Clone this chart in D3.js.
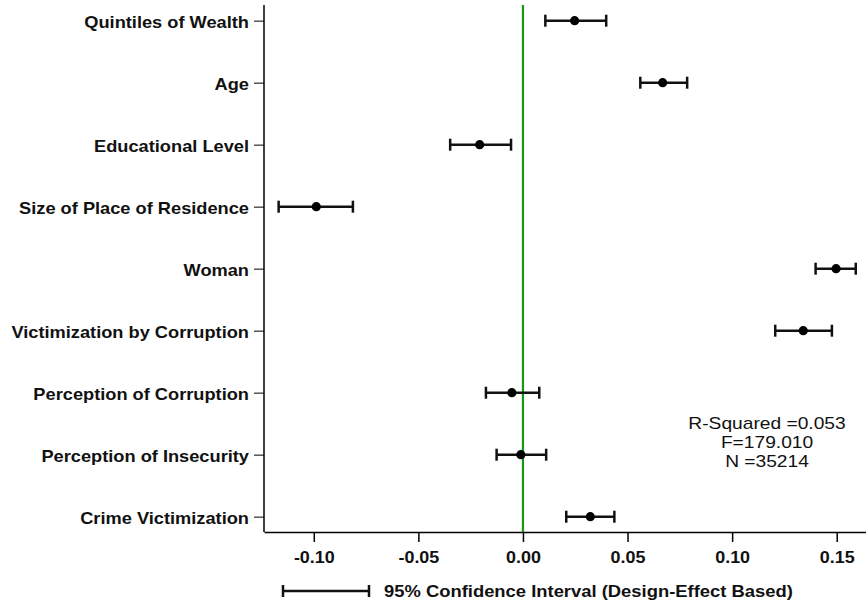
<!DOCTYPE html>
<html><head><meta charset="utf-8">
<script src="https://cdn.jsdelivr.net/npm/d3@7"></script>
<style>
html,body{margin:0;padding:0;background:#fff;}
text{font-family:"Liberation Sans",Arial,sans-serif;}
</style>
</head><body>
<svg id="chart" width="866" height="608"></svg>
<script>
const categories = ["Quintiles of Wealth","Age","Educational Level","Size of Place of Residence","Woman","Victimization by Corruption","Perception of Corruption","Perception of Insecurity","Crime Victimization"];
const estimates = [0.0247, 0.0668, -0.0207, -0.0988, 0.1497, 0.1340, -0.0053, -0.0010, 0.0322];
const lowerCI   = [0.0107, 0.0561, -0.0348, -0.1168, 0.1399, 0.1206, -0.0177, -0.0126, 0.0207];
const upperCI   = [0.0398, 0.0785, -0.0057, -0.0813, 0.1591, 0.1477, 0.0078, 0.0111, 0.0437];
const xTicks = [-0.10, -0.05, 0.00, 0.05, 0.10, 0.15];
const statsLines = ["R-Squared =0.053", "F=179.010", "N =35214"];
const legendLabel = "95% Confidence Interval (Design-Effect Based)";

(function(){
const svg = d3.select("#chart");
const pLeft = 264, pRight = 866, pTop = 5, axisY = 532;
const x = d3.scaleLinear().domain([-0.1238, 0.164]).range([pLeft, pRight]);
const y = d3.scalePoint().domain(categories).range([20.7, 516.7]);
const fmt = v => d3.format(".2f")(v).replace("\u2212","-");

// y axis
const yAxis = svg.append("g").attr("transform", `translate(${pLeft},0)`)
  .call(d3.axisLeft(y).tickSize(10).tickPadding(5).tickSizeOuter(0));
yAxis.select(".domain").remove();
yAxis.append("line").attr("x1",0).attr("x2",0).attr("y1",pTop).attr("y2",axisY).attr("stroke","#000").attr("stroke-width",1.5);
yAxis.selectAll(".tick line").attr("stroke","#555").attr("stroke-width",1.5);
yAxis.selectAll(".tick text").attr("font-size",16).attr("font-weight","bold").attr("fill","#111")
  .attr("x",0).attr("dy","0.4em").attr("transform","translate(-15,0) scale(1.14,1)");

// x axis
const xAxis = svg.append("g").attr("transform", `translate(0,${axisY})`)
  .call(d3.axisBottom(x).tickValues(xTicks).tickFormat(fmt).tickSize(10).tickPadding(10).tickSizeOuter(0));
xAxis.select(".domain").attr("stroke","#000").attr("stroke-width",1.5);
xAxis.selectAll(".tick line").attr("stroke","#000").attr("stroke-width",1.5);
xAxis.selectAll(".tick text").attr("font-size",16).attr("font-weight","bold").attr("fill","#111")
  .attr("transform","scale(1.12,1)");

// zero line
svg.append("line").attr("x1",x(0)).attr("x2",x(0)).attr("y1",pTop).attr("y2",axisY)
  .attr("stroke","#17961a").attr("stroke-width",2.2);

// error bars
const rows = categories.map((c,i)=>({c, e:estimates[i], lo:lowerCI[i], hi:upperCI[i]}));
const g = svg.append("g");
const capH = 6;
rows.forEach(r=>{
  const yy = y(r.c);
  g.append("line").attr("x1",x(r.lo)).attr("x2",x(r.hi)).attr("y1",yy).attr("y2",yy).attr("stroke","#111").attr("stroke-width",2.5);
  [r.lo, r.hi].forEach(v=>{
    g.append("line").attr("x1",x(v)).attr("x2",x(v)).attr("y1",yy-capH).attr("y2",yy+capH).attr("stroke","#111").attr("stroke-width",2.5);
  });
  g.append("circle").attr("cx",x(r.e)).attr("cy",yy).attr("r",4.6).attr("fill","#000");
});

// stats text
const st = svg.append("text").attr("transform","translate(767,429) scale(1.2,1)")
  .attr("text-anchor","middle").attr("font-size",16).attr("fill","#111");
statsLines.forEach((s,i)=>st.append("tspan").attr("x",0).attr("dy", i===0?0:19).text(s));

// legend
const lg = svg.append("g");
const ly = 591;
lg.append("line").attr("x1",283).attr("x2",369).attr("y1",ly).attr("y2",ly).attr("stroke","#111").attr("stroke-width",2.5);
[283,369].forEach(xx=>lg.append("line").attr("x1",xx).attr("x2",xx).attr("y1",ly-6).attr("y2",ly+6).attr("stroke","#111").attr("stroke-width",2.5));
lg.append("text").attr("transform","translate(384,597) scale(1.15,1)").attr("font-size",16).attr("font-weight","bold").attr("fill","#111")
  .text(legendLabel);
})();
</script>
</body></html>
